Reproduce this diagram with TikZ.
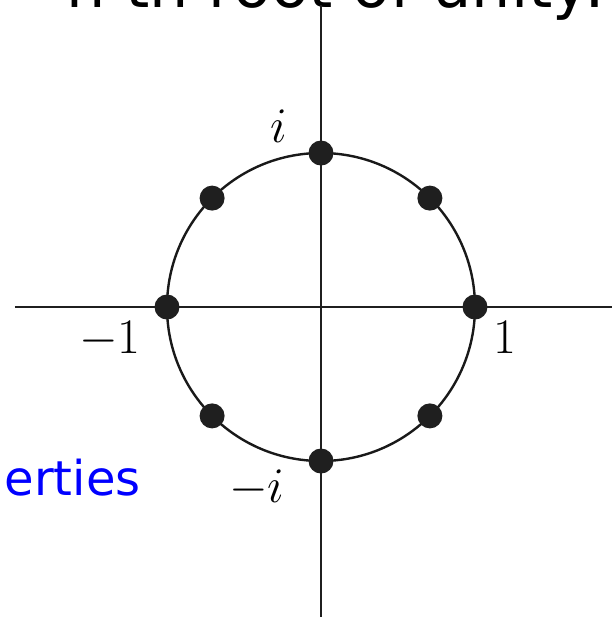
\documentclass[tikz,border=0pt]{standalone}
\usepackage{fontspec}
\newfontfamily\slidefont{DejaVu Sans}
\usetikzlibrary{positioning}

\begin{document}
\begin{tikzpicture}[
  x=0.5pt, y=-0.5pt,
  axis/.style = {line width=1.4pt, black!88},
  unitcircle/.style = {line width=1.2pt, black!90},
  rootdot/.style = {circle, fill=black!88, inner sep=0pt, minimum size=12.5pt},
  numlabel/.style = {inner sep=0pt, font=\fontsize{25}{30}\selectfont},
  slidetext/.style = {inner sep=0pt, font=\slidefont\fontsize{31}{36}\selectfont},
  bluetext/.style = {inner sep=0pt, text=blue, font=\slidefont\fontsize{24}{28}\selectfont}
]
  \useasboundingbox (0,0) rectangle (612,618);
  \clip (0,0) rectangle (612,618);

  % Slide text cut off by the crop
  \node[slidetext, anchor=base east] (title) at (606,7) {n th root of unity:};
  \node[bluetext, anchor=base east] (props) at (141,495) {erties};

  % Origin and axis ends
  \coordinate (o)  at (321,307);
  \coordinate (xl) at (15,307);
  \coordinate (xr) at (612,307);
  \coordinate (yt) at (321,5);
  \coordinate (yb) at (321,617);

  \draw[axis] (xl) -- (xr);
  \draw[axis] (yt) -- (yb);

  % Unit circle
  \draw[unitcircle] (o) circle[radius=154];

  % Eighth roots of unity
  \foreach \k in {0,...,7}
    \node[rootdot] (r\k) at ([shift={(\k*45:154)}]o) {};

  % Labels
  \node[numlabel, anchor=base west] (one)   at (493,353) {$1$};
  \node[numlabel, anchor=base east] (mone)  at (141,353) {$-1$};
  \node[numlabel, anchor=base]      (imag)  at (279,142) {$i$};
  \node[numlabel, anchor=base east] (mimag) at (285,502) {$-i$};

\end{tikzpicture}
\end{document}
